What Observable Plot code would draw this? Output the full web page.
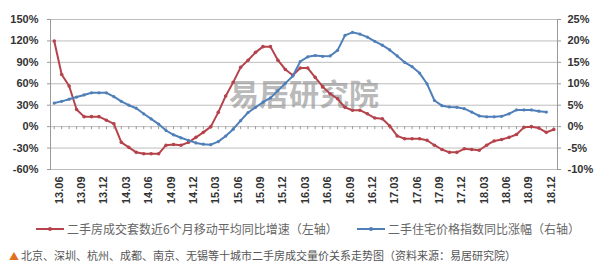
<!DOCTYPE html>
<html><head><meta charset="utf-8">
<script src="https://cdn.jsdelivr.net/npm/d3@7"></script>
<script src="https://cdn.jsdelivr.net/npm/@observablehq/plot@0.6"></script>
<style>
body{margin:0;background:#fff;width:600px;height:266px;overflow:hidden;font-family:"Noto Sans CJK SC","Noto Sans",sans-serif}
#legend{position:relative;height:24px;margin-top:2px;font-size:12px;color:#666}
#legend .item{position:absolute;top:0;height:24px;line-height:24px;white-space:nowrap;display:flex;align-items:center}
#caption{position:relative;height:16px;line-height:16px;margin-top:6px;font-size:11px;color:#555;white-space:nowrap;padding-left:9px}
#caption .tri{color:#e0701e;font-size:10px;margin-right:2px}
</style></head><body>
<div id="chart"></div>
<div id="legend"></div>
<div id="caption"></div>
<script>
// categories (monthly, 13.06 – 19.01)
const months = ["13.06","13.07","13.08","13.09","13.10","13.11","13.12",
  "14.01","14.02","14.03","14.04","14.05","14.06","14.07","14.08","14.09","14.10","14.11","14.12",
  "15.01","15.02","15.03","15.04","15.05","15.06","15.07","15.08","15.09","15.10","15.11","15.12",
  "16.01","16.02","16.03","16.04","16.05","16.06","16.07","16.08","16.09","16.10","16.11","16.12",
  "17.01","17.02","17.03","17.04","17.05","17.06","17.07","17.08","17.09","17.10","17.11","17.12",
  "18.01","18.02","18.03","18.04","18.05","18.06","18.07","18.08","18.09","18.10","18.11","18.12",
  "19.01"];
// 二手房成交套数近6个月移动平均同比增速 (%, left axis)
const volumeGrowth = [120,73,57,24,14,14,14,9,4,-22,-29,-36,-38,-38,-38,-26,-25,-26,-22,-15,
  -8,0,20,43,62,83,93,104,112,112,93,80,72,82,82,69,56,46,39,27,
  23,23,18,12,11,1,-13,-17,-17,-17,-19,-26,-32,-36,-36,-31,-32,-33,-26,-20,
  -18,-15,-11,-1,0,-2,-8,-4];
// 二手住宅价格指数同比涨幅 (%, right axis) 13.06 – 18.12
const priceGrowth = [5.5,5.9,6.4,6.9,7.4,7.9,7.9,7.9,7.0,5.9,5.0,4.3,3.0,1.8,0.6,-0.9,-1.9,-2.6,-3.2,-3.8,
  -4.1,-4.2,-3.5,-2.2,-0.6,1.4,3.3,4.5,5.7,6.7,8.4,10.1,11.8,15.2,16.3,16.6,16.4,16.5,17.8,21.3,
  22.0,21.6,20.9,19.9,19.0,17.9,16.5,15.0,14.0,12.5,10.0,6.1,4.9,4.6,4.5,4.2,3.4,2.5,2.3,2.3,
  2.4,3.0,3.9,3.9,3.9,3.6,3.4];
const tickLabels = ["13.06","13.09","13.12","14.03","14.06","14.09","14.12","15.03","15.06","15.09","15.12",
  "16.03","16.06","16.09","16.12","17.03","17.06","17.09","17.12","18.03","18.06","18.09","18.12"];
const leftTicks = [-60,-30,0,30,60,90,120,150];
const rightTicks = [-10,-5,0,5,10,15,20,25];
const seriesNames = ["二手房成交套数近6个月移动平均同比增速（左轴）","二手住宅价格指数同比涨幅（右轴）"];
const watermark = "易居研究院";
const captionText = "北京、深圳、杭州、成都、南京、无锡等十城市二手房成交量价关系走势图（资料来源：易居研究院）";

const ratio = leftTicks[leftTicks.length-1] / rightTicks[rightTicks.length-1];
const red = "#b5434c", blue = "#4f7fb8";
const redData = volumeGrowth.map((v,i)=>({m:months[i], v}));
const blueData = priceGrowth.map((v,i)=>({m:months[i], v:v*ratio}));

const chart = Plot.plot({
  width:600, height:215,
  marginTop:19, marginBottom:46, marginLeft:50, marginRight:43,
  x:{type:"point", domain:months, padding:0.5},
  y:{domain:[leftTicks[0], leftTicks[leftTicks.length-1]]},
  style:{fontFamily:"Arial, 'Liberation Sans', sans-serif", fontSize:"11px", color:"#333"},
  marks:[
    Plot.gridY(leftTicks, {stroke:"#bdbdbd", strokeOpacity:1}),
    Plot.frame({anchor:"left", stroke:"#9a9a9a"}),
    Plot.frame({anchor:"right", stroke:"#9a9a9a"}),
    Plot.ruleX(months, {x:d=>d, y1:0, y2:-4.2, stroke:"#9a9a9a"}),
    Plot.axisY(leftTicks, {anchor:"left", tickFormat:d=>d+"%", tickSize:3, tickPadding:9, fontWeight:"bold", stroke:"#9a9a9a", label:null}),
    Plot.axisY(leftTicks, {anchor:"right", tickFormat:d=>(d/ratio)+"%", tickSize:3, tickPadding:7, fontWeight:"bold", stroke:"#9a9a9a", label:null}),
    Plot.axisX(tickLabels, {anchor:"bottom", tickRotate:-90, tickSize:0, tickPadding:7, dx:5, fontWeight:"bold", label:null}),
    Plot.text([watermark], {frameAnchor:"middle", text:d=>d, dy:1, fontSize:30, fontWeight:"bold", fill:"#8c8c8c", fillOpacity:0.6, fontFamily:"'Noto Sans CJK SC', sans-serif"}),
    Plot.line(redData, {x:"m", y:"v", stroke:red, strokeWidth:2}),
    Plot.dot(redData, {x:"m", y:"v", r:1.8, fill:red}),
    Plot.line(blueData, {x:"m", y:"v", stroke:blue, strokeWidth:2}),
    Plot.dot(blueData, {x:"m", y:"v", r:1.6, fill:blue})
  ]
});
document.getElementById("chart").append(chart);

function sample(color){
  return `<svg width="28" height="8" style="margin-right:3px"><line x1="0" y1="4" x2="28" y2="4" stroke="${color}" stroke-width="2"/><circle cx="14" cy="4" r="2" fill="${color}"/></svg>`;
}
const legend = document.getElementById("legend");
const pos = [36, 357];
[[red, seriesNames[0]],[blue, seriesNames[1]]].forEach(([c,t],i)=>{
  const el = document.createElement("div");
  el.className = "item";
  el.style.left = pos[i]+"px";
  el.innerHTML = sample(c) + `<span>${t}</span>`;
  legend.append(el);
});
document.getElementById("caption").innerHTML = `<span class="tri">▲</span>${captionText}`;
</script>
</body></html>
